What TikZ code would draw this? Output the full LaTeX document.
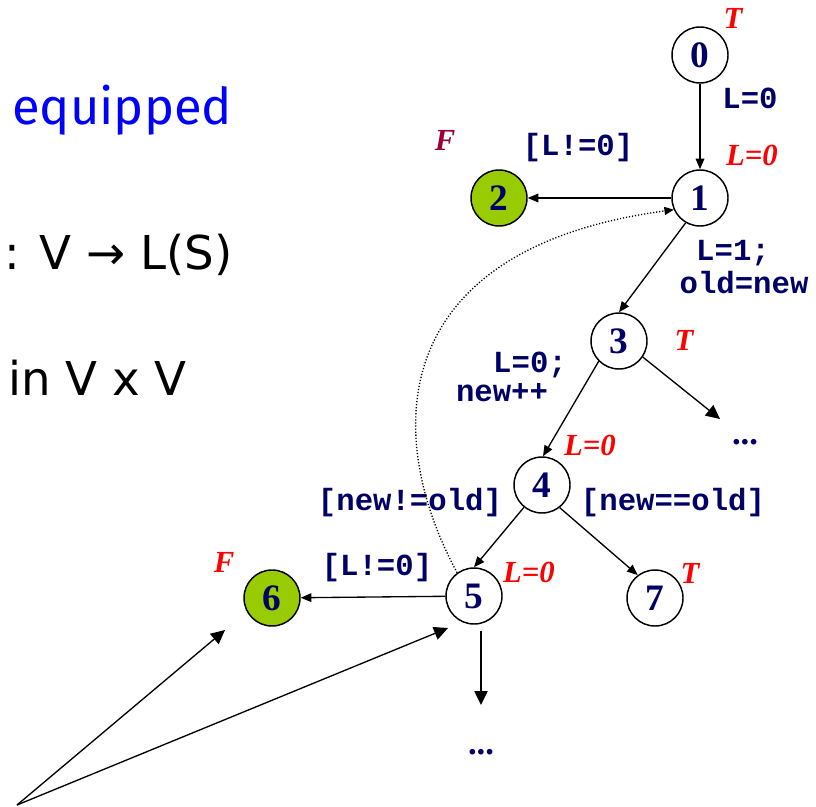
\documentclass[tikz,border=0pt]{standalone}
\usepackage{fontspec}
\setmainfont{Liberation Serif}
\newfontfamily\monofont{Liberation Mono}
\newfontfamily\sansfont{DejaVu Sans}
\newfontfamily\comicfont{Fira Sans}
\usetikzlibrary{arrows.meta}
\definecolor{navy}{HTML}{000066}
\definecolor{fgreen}{HTML}{99CC00}
\definecolor{maroon}{HTML}{990033}
\definecolor{eqblue}{HTML}{0000FF}
\begin{document}
\begin{tikzpicture}[x=0.75pt,y=-0.75pt,
  state/.style={circle,draw=black,line width=1.1pt,minimum size=42pt,inner sep=0pt,
    font=\fontsize{28}{28}\selectfont\bfseries,text=navy,fill=white},
  final/.style={state,fill=fgreen},
  code/.style={font=\monofont\fontsize{23}{23}\selectfont\bfseries,text=navy,inner sep=0pt},
  ann/.style={font=\fontsize{23}{23}\selectfont\bfseries\itshape,text=red,inner sep=0pt},
  dotsl/.style={font=\fontsize{26}{26}\selectfont\bfseries,text=navy,inner sep=0pt},
  big/.style={font=\sansfont\fontsize{35}{38}\selectfont,inner sep=0pt,anchor=west},
  arr/.style={line width=1pt,-{Triangle[length=8pt,width=6.5pt]}},
  barr/.style={line width=1pt,-{Triangle[length=10.5pt,width=10pt]}},
  dott/.style={line width=1pt,dash pattern=on 0.9pt off 1.4pt,-{Triangle[length=7pt,width=6pt]}}]
\useasboundingbox (0,0) rectangle (816,806);

% left text
\node[font=\comicfont\fontsize{38}{40}\selectfont,text=eqblue,inner sep=0pt,anchor=west] (eq) at (12,110) {equipped};
\node[big] (lab) at (4,255) {: V \textrightarrow{} L(S)};
\node[big] (vv) at (8,378) {in V x V};

% states
\node[state] (n0) at (700,55) {0};
\node[state] (n1) at (700,198) {1};
\node[final] (n2) at (499,198) {2};
\node[state] (n3) at (619,341) {3};
\node[state] (n4) at (542,485) {4};
\node[state] (n5) at (474,596) {5};
\node[final] (n6) at (272,598) {6};
\node[state] (n7) at (655,598) {7};

% dots
\node[dotsl] (d1) at (745,442) {...};
\node[dotsl] (d2) at (481,752) {...};
\coordinate (d1t) at (720,419);
\coordinate (d2t) at (481,705);
\coordinate (src) at (17,805);
\coordinate (p6) at (225,630);
\coordinate (p5) at (448,628);

% annotations
\node[ann] (t0) at (733,18) {T};
\node[ann] (l1) at (752,155) {L=0};
\node[ann,text=maroon] (f2) at (445,140) {F};
\node[ann] (t3) at (684,340) {T};
\node[ann] (l4) at (590,445) {L=0};
\node[ann] (l5) at (529,572) {L=0};
\node[ann] (t7) at (690,573) {T};
\node[ann] (f6) at (224,562) {F};

% code labels
\node[code] (c01) at (750,98) {L=0};
\node[code] (c12) at (578,148) {[L!=0]};
\node[code] (c13a) at (733,253) {L=1;};
\node[code] (c13b) at (744,283) {old=new};
\node[code] (c34a) at (530,365) {L=0;};
\node[code] (c34b) at (502,393) {new++};
\node[code] (c45) at (410,503) {[new!=old]};
\node[code] (c47) at (673,503) {[new==old]};
\node[code] (c56) at (377,568) {[L!=0]};

% edges
\draw[arr] (n0) -- (n1);
\draw[arr] (n1) -- (n2);
\draw[arr] (n1.240) -- (n3.north);
\draw[arr] (n3.225) -- (n4.88);
\draw[arr] (n4.231) -- (n5.north);
\draw[arr] (n4.-52) -- (n7.127);
\draw[barr] (n3.-34) -- (d1t);
\draw[arr] (n5) -- (n6);
\draw[barr] ([xshift=5.25pt,yshift=-4.5pt]n5.south) -- (d2t);
\draw[dott] (n5.126) .. controls (380,430) and (390,248) .. (n1.204);
\draw[barr] (src) -- (p6);
\draw[barr] (src) -- (p5);
\end{tikzpicture}
\end{document}
